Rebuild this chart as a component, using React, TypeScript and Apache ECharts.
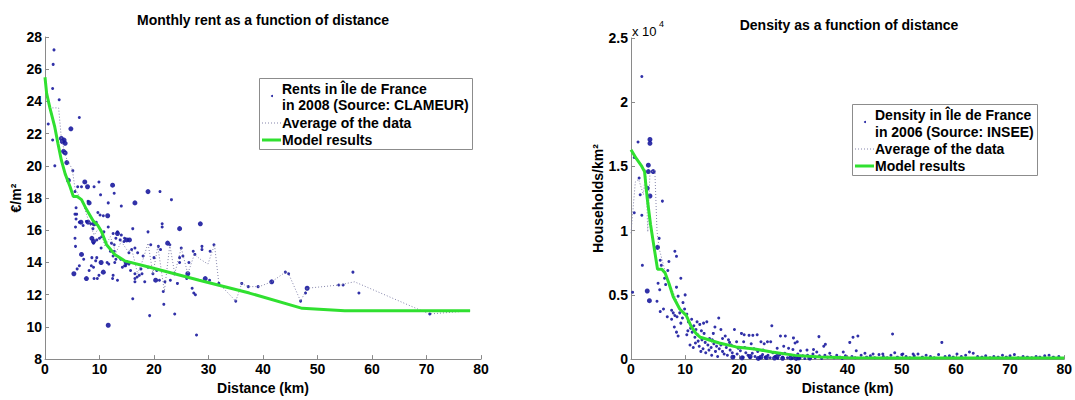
import React, { useEffect, useRef } from "react";
import * as echarts from "echarts";

// ---------- data: left chart (rent, €/m² vs distance km) ----------
const rentDots: [number, number][] = [
  [1.65, 27.2], [1.5, 26.3], [1.4, 24.8], [2.6, 24.1], [6.3, 23.0], [0.6, 22.6], [1.4, 21.6], [1.8, 20.0],
  [5.1, 19.7], [5.5, 18.4], [6.0, 18.7], [6.7, 18.7], [9.0, 18.7], [9.9, 19.0], [12.7, 18.3], [21.1, 18.4],
  [23.2, 17.9], [10.2, 18.2], [7.9, 17.8], [11.6, 17.7], [14.0, 17.5], [5.7, 17.4], [5.5, 17.0],
  [5.7, 16.7], [6.3, 16.5], [7.0, 16.3], [7.6, 16.55], [8.4, 16.4], [8.8, 16.1], [10.1, 16.95], [10.7, 16.9],
  [11.6, 16.2], [12.5, 15.8], [13.0, 15.5], [13.8, 15.4], [14.6, 15.5], [8.9, 15.2], [9.5, 15.4], [10.0, 15.5],
  [12.2, 15.2], [12.0, 14.7], [12.5, 14.4], [15.4, 14.6], [15.9, 14.8], [16.5, 14.9], [17.0, 14.6], [13.9, 14.2],
  [14.6, 13.8], [15.4, 13.9], [15.7, 13.5], [16.5, 13.3], [17.3, 13.2], [17.6, 13.6], [18.9, 13.7],
  [5.9, 13.6], [6.3, 13.8], [7.1, 14.2], [8.1, 13.5], [8.6, 14.3], [9.3, 14.1], [9.9, 13.2], [11.4, 14.0],
  [11.7, 13.9], [12.4, 13.0], [5.5, 15.5], [5.6, 15.0], [5.6, 16.2], [5.8, 17.0], [9.4, 16.5], [9.7, 17.1],
  [10.4, 15.6], [10.8, 15.9], [10.3, 14.9], [9.5, 14.3], [8.9, 13.7], [8.5, 13.8], [9.0, 13.0], [9.6, 13.0],
  [12.7, 15.1], [12.7, 14.7], [13.3, 15.9], [14.0, 15.7], [14.5, 15.3], [16.1, 11.75], [19.2, 10.7], [21.8, 11.4],
  [23.8, 10.8], [21.0, 12.9], [21.5, 16.2], [21.5, 16.4], [23.0, 12.9], [23.7, 13.3], [24.3, 12.7], [25.3, 14.4],
  [24.7, 14.0], [24.7, 14.3], [26.4, 14.0], [27.2, 14.7], [27.5, 14.5], [27.0, 12.4], [27.3, 12.1], [27.6, 12.0],
  [27.8, 9.5], [28.8, 15.0], [28.8, 14.8], [30.3, 14.7], [31.0, 15.1], [30.2, 12.9], [31.9, 12.7], [35.0, 11.6],
  [36.1, 12.7], [37.3, 12.5], [39.1, 12.5], [44.1, 13.4], [44.7, 13.3], [46.9, 11.6], [47.8, 12.1], [53.9, 12.6],
  [54.7, 12.6], [56.5, 13.4], [57.6, 12.1], [70.6, 10.8],
  [16.1, 16.1], [18.9, 15.9], [18.0, 14.4], [19.4, 15.1], [20.0, 14.3], [20.5, 13.5], [19.8, 13.3], [21.7, 12.2],
  [22.0, 12.8], [22.9, 15.1], [23.8, 13.3], [25.0, 14.9], [26.0, 13.0], [17.8, 13.3], [18.3, 12.8], [16.5, 13.0],
  [16.5, 12.8], [16.9, 13.1], [20.8, 15.0], [21.2, 14.8], [12.5, 13.2], [13.3, 12.9], [14.2, 13.7], [14.8, 13.8],
  [15.6, 14.0], [13.0, 14.2], [12.8, 14.0],
];
const rentDotsDense: [number, number][] = [
  [4.75, 22.3], [3.0, 21.7], [3.2, 21.5], [3.5, 21.6], [3.7, 21.4], [3.4, 20.9], [3.7, 20.8], [4.0, 20.2],
  [4.3, 19.1], [7.3, 19.0], [7.8, 18.7], [12.4, 18.8], [18.9, 18.4], [16.5, 17.7], [8.1, 17.7], [6.7, 14.5],
  [7.6, 13.0], [10.7, 13.4], [11.6, 10.1], [22.5, 15.2], [24.7, 16.1], [28.5, 16.4], [26.2, 13.3], [29.4, 13.0],
  [41.6, 12.8], [48.1, 12.4], [8.6, 15.5], [8.9, 15.3], [9.0, 16.4], [7.9, 16.5], [6.6, 16.5], [10.3, 14.0],
  [11.5, 16.9], [13.3, 15.8], [15.0, 15.4], [15.5, 15.4], [14.9, 14.0], [20.3, 12.9], [5.3, 13.3],
];
const rentAverage: [number, number][] = [
  [0.3, 24.0], [1.2, 23.6], [2.5, 23.6], [3.0, 21.7], [3.5, 21.0], [4.0, 20.4], [5.0, 19.8], [5.5, 18.6],
  [6.0, 18.3], [7.0, 17.6], [8.0, 16.6], [9.0, 15.7], [10.0, 16.2], [11.0, 15.0], [12.0, 15.6], [13.0, 14.6],
  [14.0, 15.3], [15.0, 14.8], [16.0, 14.7], [17.0, 13.3], [18.0, 14.2], [18.9, 15.2], [19.8, 13.3], [20.7, 15.0],
  [21.9, 12.2], [22.9, 15.1], [23.8, 13.3], [25.0, 14.9], [26.2, 13.3], [27.4, 14.5], [28.5, 14.2], [29.9, 13.9],
  [31.1, 15.1], [31.9, 12.7], [35.0, 11.6], [36.1, 12.7], [37.2, 12.5], [39.3, 12.5], [41.6, 12.8], [44.1, 13.4],
  [44.7, 13.3], [46.9, 11.6], [48.1, 12.4], [53.9, 12.6], [56.8, 12.8], [70.5, 10.8], [78.0, 11.0],
];
const rentModel: [number, number][] = [
  [0, 25.5], [0.3, 24.5], [0.9, 23.6], [1.8, 22.4], [2.4, 21.35], [3.0, 20.35], [3.7, 19.5], [4.6, 18.7],
  [5.2, 18.1], [5.9, 18.1], [6.7, 17.9], [7.6, 17.3], [8.8, 16.6], [9.7, 16.3], [10.4, 15.9], [11.3, 15.1],
  [12.8, 14.5], [14.6, 14.1], [19.2, 13.7], [28.3, 12.9], [37.5, 12.1], [47.2, 11.15], [55.0, 11.0], [78.0, 11.0],
];

// ---------- data: right chart (households/km² vs distance km) ----------
const densityDots: [number, number][] = [
  [2.0, 22000], [1.3, 16900], [1.5, 14100], [0.6, 15700], [1.7, 12800], [0.6, 11400], [2.0, 11200], [2.1, 7300],
  [5.8, 12300], [5.2, 9400], [5.4, 7700], [5.6, 7300], [5.0, 5900], [5.3, 5400], [4.8, 4500], [5.4, 3700],
  [6.2, 6300], [6.4, 5800], [7.0, 7600], [6.8, 6900], [8.1, 8400], [8.4, 8000], [9.2, 6300], [8.4, 5600],
  [8.7, 4900], [7.5, 3800], [7.8, 3600], [8.1, 3400], [8.5, 3300], [9.0, 3600], [9.5, 3200], [9.9, 3900],
  [9.2, 2800], [10.3, 3500], [10.6, 2900], [10.3, 1900], [8.4, 2100], [8.7, 1800], [7.5, 3100], [8.0, 2500],
  [6.0, 3900], [6.7, 3300], [9.6, 4400], [10.0, 5000], [0.3, 5200],
  [11.0, 2400], [11.3, 2100], [11.8, 1700], [12.2, 2900], [12.7, 2700], [13.4, 2800], [14.0, 2900], [13.0, 2200],
  [13.5, 2000], [14.5, 1600], [12.4, 1400], [10.9, 1100], [11.5, 900], [12.9, 600], [13.8, 500], [14.9, 300],
  [11.2, 3100], [11.6, 2600], [12.0, 2300], [12.3, 1900], [13.1, 1500], [13.7, 1300], [14.2, 1100], [14.8, 900],
  [12.6, 1000], [13.3, 800], [14.4, 700], [11.9, 1250], [10.5, 2200], [15.0, 1500],
  [15.5, 2500], [16.2, 3200], [16.6, 2300], [17.4, 1800], [18.0, 1500], [19.1, 2300], [19.5, 1350], [20.4, 2000],
  [20.8, 1350], [20.9, 1900], [21.8, 1850], [22.5, 1850], [23.3, 1900], [22.2, 1200], [24.0, 1350], [24.6, 1200],
  [15.3, 1200], [15.8, 1000], [16.3, 800], [16.9, 600], [17.2, 400], [17.8, 300], [18.3, 700], [18.7, 500],
  [19.0, 200], [19.6, 400], [20.2, 650], [20.7, 150], [21.2, 500], [21.6, 300], [22.0, 100], [22.4, 450],
  [22.9, 200], [23.4, 600], [23.8, 100], [24.3, 350], [24.8, 150], [15.6, 600], [16.0, 200], [16.6, 1100],
  [17.6, 900], [18.5, 1100], [19.8, 850], [21.0, 900], [22.7, 800], [24.4, 700], [15.2, 2000], [16.9, 1600],
  [18.2, 1300],
  [25.2, 1350], [25.8, 1350], [26.0, 2600], [27.6, 1800], [28.5, 1800], [27.0, 850], [28.2, 1000], [29.1, 850],
  [30.3, 1250], [30.7, 1350], [29.9, 750], [31.3, 650], [32.5, 700], [33.7, 750], [35.6, 1000], [35.9, 1150],
  [34.3, 550], [36.7, 450], [39.2, 550], [25.3, 300], [25.7, 100], [26.2, 500], [26.6, 200], [27.1, 50],
  [27.5, 350], [28.0, 150], [28.4, 450], [28.9, 100], [29.4, 300], [29.8, 50], [30.2, 200], [30.8, 400],
  [31.2, 100], [31.7, 250], [32.1, 50], [32.6, 300], [33.1, 150], [33.6, 400], [34.0, 100], [34.8, 250],
  [35.2, 50], [35.8, 300], [36.3, 150], [36.9, 200], [37.5, 100], [38.0, 300], [38.6, 150], [39.0, 50],
  [39.6, 250], [34.7, 1750], [30.0, 1650],
  [40.4, 1300], [41.0, 1700], [41.9, 1800], [41.6, 650], [43.2, 450], [44.7, 400], [46.5, 400], [48.3, 1950],
  [48.7, 500], [50.2, 400], [52.1, 400], [40.8, 200], [41.4, 100], [42.5, 300], [43.5, 150], [44.2, 250],
  [45.0, 100], [45.8, 350], [46.6, 200], [47.3, 100], [48.0, 300], [49.2, 150], [50.0, 350], [50.8, 200],
  [51.5, 100], [52.3, 250], [53.0, 400], [53.8, 150], [54.5, 300], [55.3, 200], [56.0, 100], [56.8, 350],
  [57.4, 1300], [58.0, 200], [58.8, 250], [59.5, 150], [60.2, 400], [61.0, 200], [61.8, 300], [62.5, 550],
  [63.2, 450], [64.0, 200], [64.8, 150], [65.5, 250], [66.3, 100], [67.0, 200], [67.8, 150], [68.6, 300],
  [69.3, 150], [70.0, 250], [70.8, 350], [71.5, 100], [72.4, 200], [73.2, 150], [74.0, 100], [74.8, 200],
  [75.5, 150], [76.4, 250], [77.2, 300], [78.0, 150], [79.0, 200],
];
const densityDotsDense: [number, number][] = [
  [3.5, 17100], [3.5, 16800], [3.2, 15100], [3.2, 14600], [3.0, 13300], [3.5, 12700], [4.1, 14600], [4.9, 8700],
  [3.0, 5300], [3.4, 4550], [18.8, 150], [20.5, 100], [22.0, 200], [23.5, 50], [24.0, 150], [25.0, 120],
  [26.5, 80], [27.0, 200], [28.0, 60], [29.5, 100], [30.5, 50], [31.0, 90], [33.0, 80],
];
const densityAverage: [number, number][] = [
  [0, 9800], [0.8, 13800], [1.4, 14000], [2.3, 12800], [2.7, 14800], [3.1, 9900], [3.5, 14500], [4.4, 14700],
  [4.8, 10000], [5.2, 8600], [6.2, 7000], [7.0, 6000], [8.0, 5000], [9.0, 4000], [10.0, 3500], [11.0, 2700],
  [12.0, 2100], [13.0, 1700], [14.0, 1500], [15.0, 1300], [17.0, 1100], [19.0, 1000], [21.0, 850], [23.0, 700],
  [25.0, 600], [27.0, 500], [29.0, 400], [31.0, 320], [33.0, 260], [35.0, 220], [38.0, 180], [41.0, 150],
  [45.0, 130], [50.0, 120], [55.0, 110], [60.0, 110], [65.0, 100], [70.0, 100], [75.0, 100], [79.0, 100],
];
const densityModel: [number, number][] = [
  [0, 16300], [1.0, 15600], [2.0, 15000], [2.5, 14600], [3.0, 12500], [3.6, 10500], [4.3, 8600], [4.9, 7000],
  [5.7, 7000], [6.3, 6700], [7.0, 5900], [7.8, 4850], [9.0, 3900], [10.2, 3400], [11.1, 2550], [12.0, 2000],
  [12.8, 1700], [16.3, 1250], [19.4, 950], [22.8, 780], [26.0, 560], [30.3, 290], [35.0, 160], [40.0, 110],
  [50.0, 90], [80.0, 80],
];

const xTicks = [0, 10, 20, 30, 40, 50, 60, 70, 80];

const FONT = '"Liberation Sans", Arial, sans-serif';
const DOT = "#1b1b9e";
const GREEN = "#30e030";
const AVG = "#8484aa";
const AXIS = "#8a8a8a";

function xAxisCfg(gridIndex: number) {
  return {
    gridIndex,
    type: "value",
    min: xTicks[0],
    max: xTicks[xTicks.length - 1],
    interval: xTicks[1] - xTicks[0],
    axisLine: { show: true, lineStyle: { color: AXIS, width: 1 } },
    axisTick: { show: true, inside: true, length: 4, lineStyle: { color: AXIS } },
    splitLine: { show: false },
    axisLabel: { color: "#000", fontWeight: "bold", fontSize: 14, fontFamily: FONT, margin: 3 },
    name: "Distance (km)",
    nameLocation: "middle",
    nameGap: 15,
    nameTextStyle: { color: "#000", fontWeight: "bold", fontSize: 14, fontFamily: FONT },
  };
}

function yAxisCfg(gridIndex: number, min: number, max: number, interval: number, name: string, gap: number, fmt?: (v: number) => string) {
  return {
    gridIndex,
    type: "value",
    min,
    max,
    interval,
    axisLine: { show: true, lineStyle: { color: AXIS, width: 1 } },
    axisTick: { show: true, inside: true, length: 4, lineStyle: { color: AXIS } },
    splitLine: { show: false },
    axisLabel: { color: "#000", fontWeight: "bold", fontSize: 14, fontFamily: FONT, margin: 3, formatter: fmt },
    name,
    nameLocation: "middle",
    nameGap: gap,
    nameTextStyle: { color: "#000", fontWeight: "bold", fontSize: 14, fontFamily: FONT },
  };
}

function txt(text: string, x: number, y: number, extra: any = {}) {
  return {
    type: "text",
    x,
    y,
    z: 100,
    silent: true,
    style: {
      text,
      fill: "#000",
      font: `bold 14px ${FONT}`,
      align: "left",
      verticalAlign: "middle",
      ...extra,
    },
  };
}

function legend(bx: number, by: number, bw: number, bh: number, tx: number, lines: number[], line1: string, line2: string, dotY: number) {
  return [
    { type: "rect", z: 99, silent: true, shape: { x: bx + 0.5, y: by + 0.5, width: bw, height: bh }, style: { fill: "#fff", stroke: "#8c8c8c", lineWidth: 1 } },
    { type: "circle", z: 100, silent: true, shape: { cx: tx - 10, cy: dotY, r: 1 }, style: { fill: DOT } },
    { type: "line", z: 100, silent: true, shape: { x1: tx - 20, y1: lines[2], x2: tx - 1, y2: lines[2] }, style: { stroke: AVG, lineWidth: 1, lineDash: [1, 2] } },
    { type: "line", z: 100, silent: true, shape: { x1: tx - 20, y1: lines[3], x2: tx - 1, y2: lines[3] }, style: { stroke: GREEN, lineWidth: 3 } },
    txt(line1, tx, lines[0]),
    txt(line2, tx, lines[1]),
    txt("Average of the data", tx, lines[2]),
    txt("Model results", tx, lines[3]),
  ];
}

function scatter(data: [number, number][], idx: number, size: number) {
  return {
    type: "scatter",
    xAxisIndex: idx,
    yAxisIndex: idx,
    data,
    symbol: "circle",
    symbolSize: size,
    itemStyle: { color: DOT, opacity: 0.9 },
    z: 2,
    silent: true,
  };
}

function lineSeries(data: [number, number][], idx: number, color: string, width: number, dotted: boolean, z: number) {
  return {
    type: "line",
    xAxisIndex: idx,
    yAxisIndex: idx,
    data,
    showSymbol: false,
    symbol: "none",
    lineStyle: { color, width, type: dotted ? [1, 2] : "solid" },
    z,
    silent: true,
  };
}

export default function App() {
  const ref = useRef<HTMLDivElement>(null);
  useEffect(() => {
    const chart = echarts.init(ref.current!, null, { renderer: "svg" });
    chart.setOption({
      animation: false,
      backgroundColor: "#fff",
      grid: [
        { left: 45, top: 37, width: 436, height: 330 },
        { left: 631, top: 38, width: 436, height: 326 },
      ],
      xAxis: [xAxisCfg(0), xAxisCfg(1)],
      yAxis: [
        yAxisCfg(0, 8, 28, 2, "€/m²", 19),
        yAxisCfg(1, 0, 25000, 5000, "Households/km²", 25, (v: number) => String(v / 10000)),
      ],
      series: [
        scatter(rentDots, 0, 3),
        scatter(rentDotsDense, 0, 5),
        lineSeries(rentAverage, 0, AVG, 1, true, 3),
        lineSeries(rentModel, 0, GREEN, 3, false, 4),
        scatter(densityDots, 1, 3),
        scatter(densityDotsDense, 1, 5),
        lineSeries(densityAverage, 1, AVG, 1, true, 3),
        lineSeries(densityModel, 1, GREEN, 3, false, 4),
      ],
      graphic: [
        txt("Monthly rent as a function of distance", 263, 20, { align: "center" }),
        txt("Density as a function of distance", 849, 25, { align: "center" }),
        txt("x 10", 632, 31, { font: `13px ${FONT}` }),
        txt("4", 659, 24, { font: `9px ${FONT}` }),
        ...legend(259, 78, 213, 71, 282, [89, 105, 123, 140], "Rents in Île de France", "in 2008 (Source: CLAMEUR)", 96),
        ...legend(852, 104, 185, 71, 875, [115, 132, 149, 166], "Density in Île de France", "in 2006 (Source: INSEE)", 122),
      ],
    });
    return () => chart.dispose();
  }, []);
  return (
    <div
      ref={ref}
      style={{ position: "fixed", left: 0, top: 0, width: 1075, height: 400, background: "#fff" }}
    />
  );
}
